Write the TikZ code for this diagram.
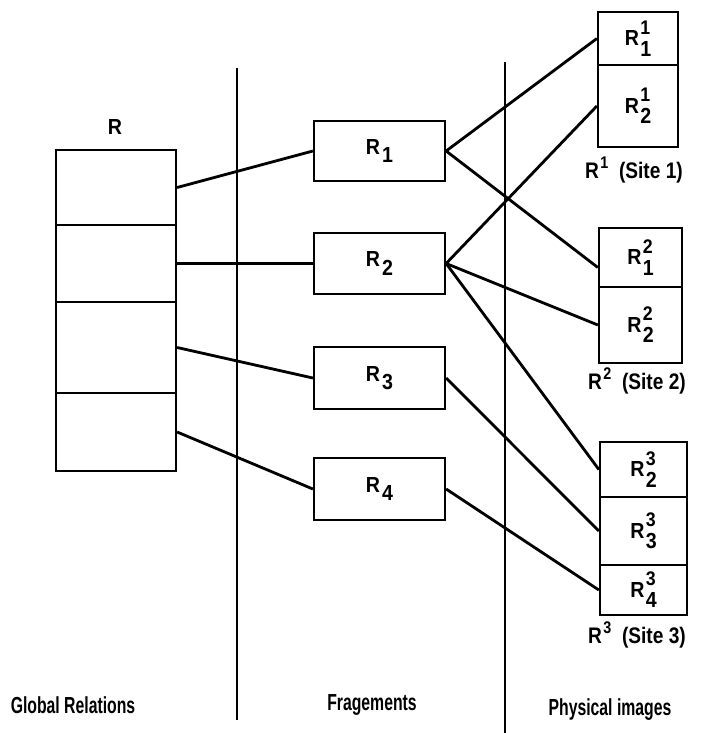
\documentclass[tikz,border=0pt]{standalone}
\usepackage{fontspec}
\setmainfont{Liberation Sans}
\newfontfamily\capfont[FakeStretch=0.68]{Liberation Sans}
\newfontfamily\sitefont[FakeStretch=0.85]{Liberation Sans}
\newfontfamily\cellfont[FakeStretch=0.9]{Liberation Sans}
\usetikzlibrary{positioning}

\newcommand{\pxu}{0.025cm}
\newcommand{\fragR}[1]{R\kern1.5pt\raisebox{-6pt}{#1}}
\newcommand{\imgR}[2]{R\kern1pt\rlap{\raisebox{8pt}{\fontsize{14}{14}\selectfont #1}}\raisebox{-7.5pt}{#2}}
\newcommand{\siteR}[1]{R\kern1pt\raisebox{7pt}{\fontsize{12}{12}\selectfont #1}}

\begin{document}
\begin{tikzpicture}[
  x=0.025cm, y=-0.025cm,
  font=\cellfont\bfseries\fontsize{15.5}{17}\selectfont,
  cell/.style={draw, line width=1.6pt, inner sep=0pt, anchor=center},
  global/.style={cell, minimum width=120*\pxu},
  frag/.style={cell, minimum width=131*\pxu},
  caption/.style={font=\capfont\bfseries\fontsize{16.5}{18}\selectfont, inner sep=1pt},
  sitecap/.style={font=\sitefont\bfseries\fontsize{16}{18}\selectfont, inner sep=1pt},
  link/.style={line width=2pt},
  divider/.style={line width=1.6pt},
]
\useasboundingbox (0,0) rectangle (714,733);

% ---- Global relation ----------------------------------------------------------
\node[global, minimum height=75*\pxu] (g1) at (116,187.5) {};
\node[global, minimum height=77*\pxu] (g2) at (116,263.5) {};
\node[global, minimum height=91*\pxu] (g3) at (116,347.5) {};
\node[global, minimum height=78*\pxu] (g4) at (116,432) {};
\node (rname) at (115,127) {R};

% ---- Fragments ----------------------------------------------------------------
\node[frag, minimum height=60*\pxu] (f1) at (379.5,151) {\fragR{1}};
\node[frag, minimum height=61*\pxu] (f2) at (379.5,263.5) {\fragR{2}};
\node[frag, minimum height=62*\pxu] (f3) at (379.5,378) {\fragR{3}};
\node[frag, minimum height=62*\pxu] (f4) at (379.5,489) {\fragR{4}};

% ---- Site 1 -------------------------------------------------------------------
\node[cell, minimum width=80*\pxu, minimum height=53*\pxu] (s11) at (638,38.5) {\imgR{1}{1}};
\node[cell, minimum width=80*\pxu, minimum height=82*\pxu] (s12) at (638,106) {\imgR{1}{2}};
\node[sitecap] (site1) at (634,170) {\siteR{1}\ \ (Site 1)};

% ---- Site 2 -------------------------------------------------------------------
\node[cell, minimum width=83*\pxu, minimum height=59*\pxu] (s21) at (640.5,257.5) {\imgR{2}{1}};
\node[cell, minimum width=83*\pxu, minimum height=76*\pxu] (s22) at (640.5,325) {\imgR{2}{2}};
\node[sitecap] (site2) at (637,381) {\siteR{2}\ \ (Site 2)};

% ---- Site 3 -------------------------------------------------------------------
\node[cell, minimum width=87*\pxu, minimum height=55*\pxu] (s32) at (643.5,469.5) {\imgR{3}{2}};
\node[cell, minimum width=87*\pxu, minimum height=68*\pxu] (s33) at (643.5,531) {\imgR{3}{3}};
\node[cell, minimum width=87*\pxu, minimum height=50*\pxu] (s34) at (643.5,590) {\imgR{3}{4}};
\node[sitecap] (site3) at (637,635) {\siteR{3}\ \ (Site 3)};

% ---- Dividers and column titles -----------------------------------------------
\coordinate (d1top) at (237,68);
\coordinate (d1bot) at (237,720);
\coordinate (d2top) at (505,62);
\coordinate (d2bot) at (505,733);
\draw[divider] (d1top) -- (d1bot);
\draw[divider] (d2top) -- (d2bot);

\node[caption] (tglobal) at (73,705) {Global Relations};
\node[caption] (tfrag) at (372,705) {Fragements};
\node[caption] (tphys) at (610,710) {Physical images};

% ---- Links --------------------------------------------------------------------
\draw[link] (g1.east) -- (f1.west);
\draw[link] (g2.east) -- (f2.west);
\draw[link] (g3.east) -- (f3.west);
\draw[link] (g4.east) -- (f4.west);

\draw[link] (f1.east) -- (s11.west);
\draw[link] (f1.east) -- ([yshift=-10*\pxu]s21.west);
\draw[link] (f2.east) -- (s12.west);
\draw[link] (f2.east) -- (s22.west);
\draw[link] (f2.east) -- (s32.west);
\draw[link] (f3.east) -- (s33.west);
\draw[link] (f4.east) -- (s34.west);

\end{tikzpicture}
\end{document}
